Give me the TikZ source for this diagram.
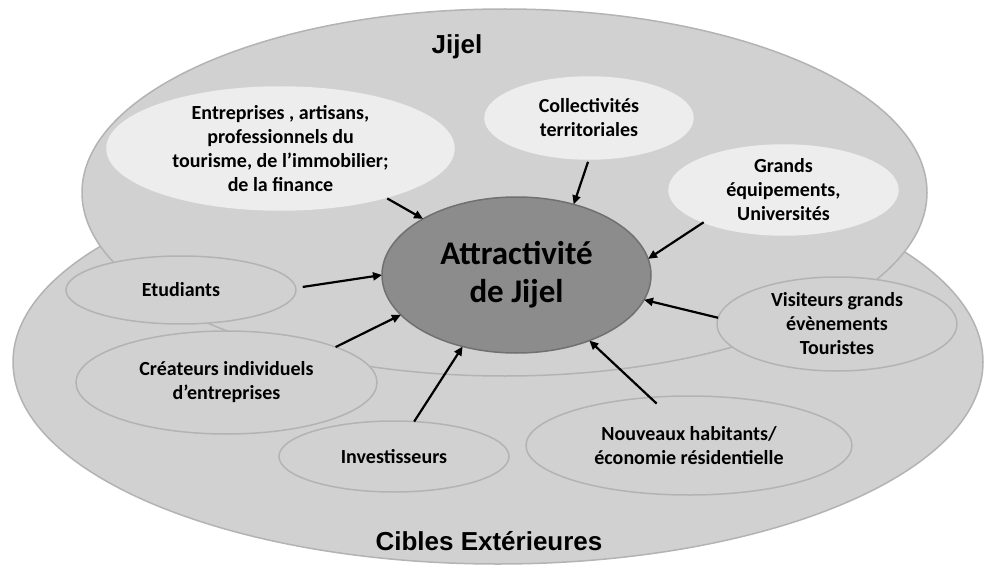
\documentclass[tikz,border=0pt]{standalone}
\usepackage{fontspec}
\setmainfont{Carlito}
\newfontfamily\arialf{Liberation Sans}
\usetikzlibrary{shapes.geometric,arrows.meta}
\definecolor{midg}{HTML}{D1D1D1}
\definecolor{lightg}{HTML}{EDEDED}
\definecolor{darkg}{HTML}{8C8C8C}
\definecolor{bord}{HTML}{B3B3B3}
\definecolor{cbord}{HTML}{707070}
\begin{document}
\begin{tikzpicture}[x=1pt,y=-1pt,
  ell/.style={ellipse,draw=bord,line width=1.5pt,fill=midg,inner sep=0pt,outer sep=0pt},
  lell/.style={ell,fill=lightg,draw=lightg},
  cell/.style={ell,fill=darkg,draw=cbord},
  txt/.style={align=center,inner sep=0pt,font=\bfseries\fontsize{20}{24}\selectfont},
  big/.style={align=center,inner sep=0pt,font=\bfseries\fontsize{33}{38}\selectfont},
  ttl/.style={inner sep=0pt,font=\arialf\bfseries\fontsize{26}{30}\selectfont},
  arr/.style={line width=2.2pt,-{Triangle[length=9pt,width=8pt]}}]
\useasboundingbox (0,0) rectangle (988,567);
% outer areas
\node[ell,minimum width=970pt,minimum height=404pt] (cib) at (498,362) {};
\node[ell,minimum width=845pt,minimum height=367pt] (jij) at (504.5,192.5) {};
% Jijel inner actors
\node[lell,minimum width=347pt,minimum height=123pt] (ent) at (280.5,148.5) {};
\node[lell,minimum width=208pt,minimum height=82pt] (col) at (589,118) {};
\node[lell,minimum width=229pt,minimum height=90pt] (grd) at (783.5,190) {};
% external targets
\node[ell,minimum width=230pt,minimum height=68pt] (etu) at (181,290) {};
\node[ell,minimum width=301pt,minimum height=103pt] (cre) at (226.5,382.5) {};
\node[ell,minimum width=230pt,minimum height=71pt] (inv) at (394,456.5) {};
\node[ell,minimum width=326pt,minimum height=99pt] (nou) at (689,445.5) {};
\node[ell,minimum width=240pt,minimum height=94pt] (vis) at (837,324) {};
% centre
\node[cell,minimum width=269pt,minimum height=156pt] (ctr) at (516.5,275) {};
% texts
\node[ttl] (tjij) at (457,47) {Jijel};
\node[ttl] (tcib) at (489,541) {Cibles Extérieures};
\node[txt] (tent) at (ent) {Entreprises , artisans,\\professionnels du\\tourisme, de l’immobilier;\\de la finance};
\node[txt] (tcol) at (col) {Collectivités\\territoriales};
\node[txt] (tgrd) at (grd) {Grands\\équipements,\\Universités};
\node[txt] (tetu) at (etu) {Etudiants};
\node[txt] (tcre) at (cre) {Créateurs individuels\\d’entreprises};
\node[txt] (tinv) at (inv) {Investisseurs};
\node[txt] (tnou) at (nou) {Nouveaux habitants/\\économie résidentielle};
\node[txt] (tvis) at (vis) {Visiteurs grands\\évènements\\Touristes};
\node[big] (tctr) at (ctr) {Attractivité\\de Jijel};
% arrows
\draw[arr,shorten <=2pt] (ent.-25.8) -- (ctr.149.8);
\draw[arr,shorten <=3pt] (col.-90) -- (ctr.51.8);
\draw[arr] (grd.202.3) -- (ctr.7.9);
\draw[arr,shorten <=7pt] (etu.1) -- (ctr.180.4);
\draw[arr] (vis.177.6) -- (ctr.-11.6);
\draw[arr] (cre.18.4) -- (ctr.199);
\draw[arr] (inv.60.4) -- (ctr.233.6);
\draw[arr,shorten <=-9pt] (nou.129.2) -- (ctr.-42);
\end{tikzpicture}
\end{document}
